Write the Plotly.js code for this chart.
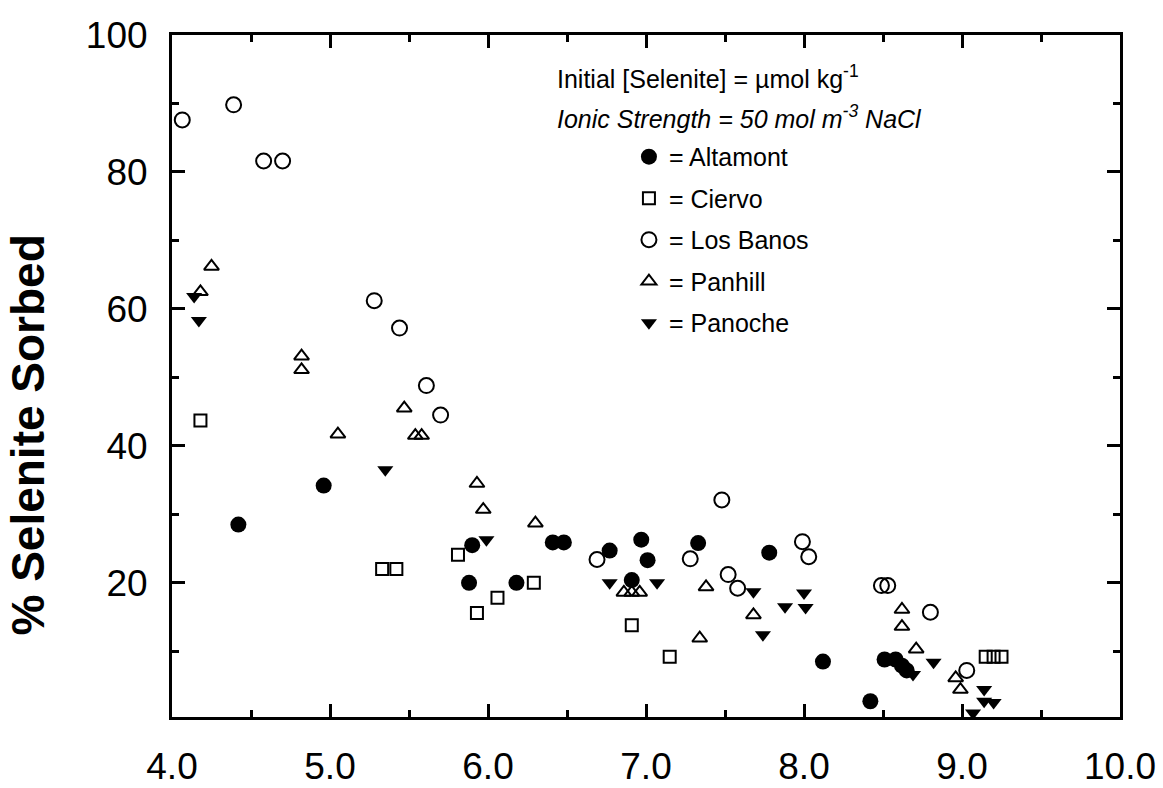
<!DOCTYPE html>
<html>
<head>
<meta charset="utf-8">
<script src="https://cdn.plot.ly/plotly-3.0.1.min.js"></script>
<style>html,body{margin:0;padding:0;background:#fff}#chart{width:1163px;height:788px}</style>
</head>
<body>
<div id="chart"></div>
<script>
// pH (x) and % Selenite Sorbed (y) for each soil
const altamontX = [4.42, 4.96, 5.90, 5.88, 6.18, 6.41, 6.48, 6.77, 6.97, 7.01, 6.91, 7.33, 7.78, 8.12, 8.42, 8.51, 8.58, 8.62, 8.65];
const altamontY = [28.5, 34.2, 25.5, 20.0, 20.0, 25.9, 25.9, 24.7, 26.3, 23.3, 20.4, 25.8, 24.4, 8.5, 2.7, 8.8, 8.8, 7.9, 7.2];

const ciervoX = [4.18, 5.33, 5.42, 5.81, 5.93, 6.06, 6.29, 6.91, 7.15, 9.15, 9.20, 9.25];
const ciervoY = [43.7, 22.0, 22.0, 24.1, 15.6, 17.8, 20.0, 13.8, 9.2, 9.2, 9.2, 9.2];

const losBanosX = [4.065, 4.39, 4.58, 4.70, 5.28, 5.44, 5.61, 5.70, 6.69, 7.28, 7.48, 7.52, 7.58, 7.99, 8.03, 8.49, 8.53, 8.80, 9.03];
const losBanosY = [87.6, 89.8, 81.6, 81.6, 61.2, 57.2, 48.8, 44.5, 23.4, 23.5, 32.1, 21.2, 19.2, 26.0, 23.8, 19.6, 19.6, 15.7, 7.2];

const panhillX = [4.25, 4.18, 4.82, 4.82, 5.05, 5.47, 5.54, 5.58, 5.93, 5.97, 6.30, 6.86, 6.91, 6.96, 7.38, 7.34, 7.68, 8.62, 8.62, 8.71, 8.96, 8.99];
const panhillY = [66.2, 62.5, 53.1, 51.1, 41.7, 45.5, 41.5, 41.5, 34.5, 30.7, 28.7, 18.6, 18.6, 18.6, 19.4, 11.9, 15.3, 16.1, 13.6, 10.3, 6.1, 4.4];

const panocheX = [4.14, 4.17, 5.35, 5.99, 6.77, 7.07, 7.68, 7.74, 7.88, 8.00, 8.01, 8.69, 8.82, 9.14, 9.14, 9.20, 9.07];
const panocheY = [61.8, 58.3, 36.5, 26.3, 20.0, 20.0, 18.7, 12.4, 16.5, 18.5, 16.4, 6.6, 8.4, 4.4, 2.7, 2.5, 1.0];

const seriesNames = ['= Altamont', '= Ciervo', '= Los Banos', '= Panhill', '= Panoche'];
const xTickVals = [4, 5, 6, 7, 8, 9, 10];
const xTickText = ['4.0', '5.0', '6.0', '7.0', '8.0', '9.0', '10.0'];
const yTickVals = [20, 40, 60, 80, 100];
const yTickText = ['20', '40', '60', '80', '100'];

const FONT = 'Liberation Sans, Arial, Helvetica, sans-serif';

function tr(x, y, name, symbol, size, lw, group) {
  return {
    type: 'scatter', mode: 'markers', x: x, y: y, name: name,
    legendgroup: group, cliponaxis: false,
    marker: {symbol: symbol, size: size, color: '#000', line: {color: '#000', width: lw}},
    hoverinfo: 'x+y'
  };
}

const data = [
  tr(altamontX, altamontY, seriesNames[0], 'circle', 16, 0, 'a'),
  tr(ciervoX, ciervoY, seriesNames[1], 'square-open', 12, 2, 'b'),
  tr(losBanosX, losBanosY, seriesNames[2], 'circle-open', 15, 2, 'c'),
  tr(panhillX, panhillY, seriesNames[3], 'triangle-up-open', 13, 2, 'd'),
  tr(panocheX, panocheY, seriesNames[4], 'triangle-down', 14, 0, 'e')
];

const axisCommon = {
  showline: true, linewidth: 3, linecolor: '#000', mirror: 'allticks',
  ticks: 'inside', ticklen: 13, tickwidth: 3, tickcolor: '#000',
  showgrid: false, zeroline: false,
  tickfont: {family: FONT, size: 37, color: '#000'},
  minor: {ticks: 'inside', ticklen: 7, tickwidth: 3, tickcolor: '#000', showgrid: false}
};

const layout = {
  width: 1163, height: 788,
  margin: {l: 172, r: 43, t: 35, b: 71, pad: 0},
  paper_bgcolor: '#fff', plot_bgcolor: '#fff',
  font: {family: FONT, color: '#000'},
  showlegend: true,
  legend: {
    x: 0.482, y: 0.855, xanchor: 'left', yanchor: 'top',
    bgcolor: 'rgba(0,0,0,0)', borderwidth: 0,
    font: {family: FONT, size: 25, color: '#000'},
    tracegroupgap: 6, traceorder: 'grouped', itemwidth: 30
  },
  xaxis: Object.assign({}, axisCommon, {
    range: [4, 10], tickmode: 'array', tickvals: xTickVals, ticktext: xTickText,
    ticklabelstandoff: 15,
    minor: Object.assign({}, axisCommon.minor, {dtick: 0.5, tick0: 4})
  }),
  yaxis: Object.assign({}, axisCommon, {
    range: [0.4, 100], tickmode: 'array', tickvals: yTickVals, ticktext: yTickText,
    ticklabelstandoff: 14,
    minor: Object.assign({}, axisCommon.minor, {dtick: 10, tick0: 0})
  }),
  annotations: [
    {xref: 'paper', yref: 'paper', x: -0.152, y: 0.414, xanchor: 'center', yanchor: 'middle',
     textangle: -90, showarrow: false,
     text: '<b>% Selenite Sorbed</b>', font: {family: FONT, size: 46, color: '#000'}},
    {xref: 'paper', yref: 'paper', x: 0.404, y: 0.9384, xanchor: 'left', yanchor: 'middle',
     showarrow: false, text: 'Initial [Selenite] = µmol kg<sup>-1</sup>',
     font: {family: FONT, size: 25, color: '#000'}},
    {xref: 'paper', yref: 'paper', x: 0.404, y: 0.8798, xanchor: 'left', yanchor: 'middle',
     showarrow: false, text: '<i>Ionic Strength = 50 mol m<sup>-3</sup> NaCl</i>',
     font: {family: FONT, size: 25, color: '#000'}}
  ]
};

Plotly.newPlot('chart', data, layout, {displayModeBar: false, staticPlot: true});
</script>
</body>
</html>
